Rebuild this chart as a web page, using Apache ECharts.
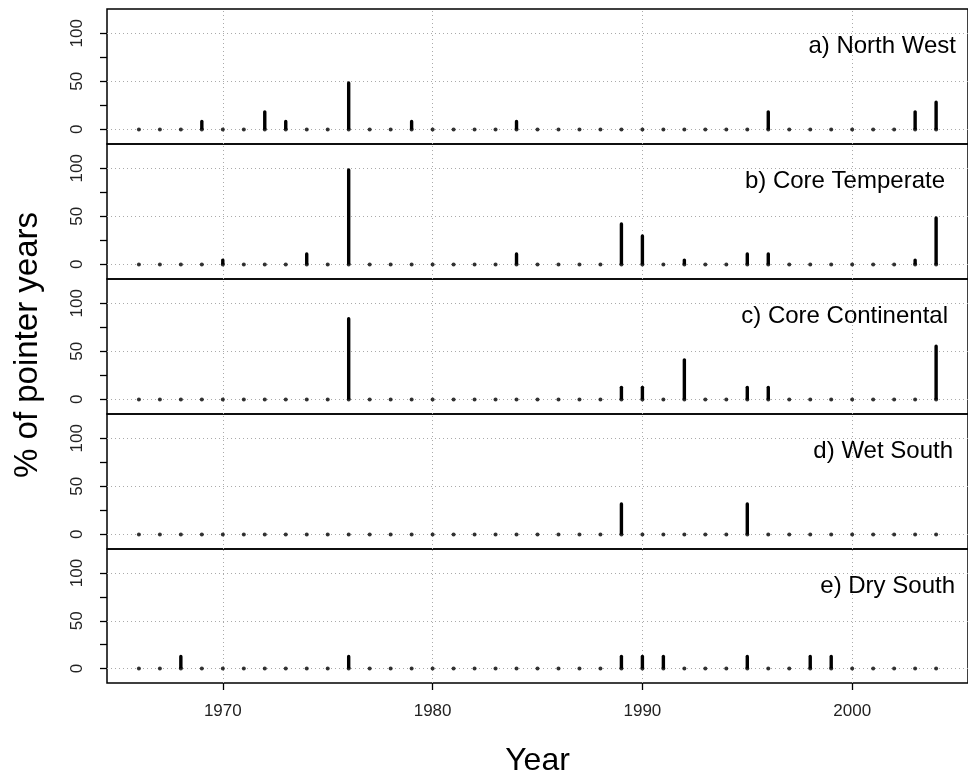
<!DOCTYPE html>
<html>
<head>
<meta charset="utf-8">
<script src="https://cdn.jsdelivr.net/npm/echarts@6/dist/echarts.min.js"></script>
<style>
html,body{margin:0;padding:0;background:#fff;}
#chart{width:968px;height:778px;}
</style>
</head>
<body>
<div id="chart"></div>
<script>
const years = [1966,1967,1968,1969,1970,1971,1972,1973,1974,1975,1976,1977,1978,1979,1980,1981,1982,1983,1984,1985,1986,1987,1988,1989,1990,1991,1992,1993,1994,1995,1996,1997,1998,1999,2000,2001,2002,2003,2004];

//                 66 67 68 69 70 71 72 73 74 75 76 77 78 79 80 81 82 83 84 85 86 87 88 89 90 91 92 93 94 95 96 97 98 99 00 01 02 03 04
const northWest = [0, 0, 0, 10,0, 0, 20,10,0, 0, 50,0, 0, 10,0, 0, 0, 0, 10,0, 0, 0, 0, 0, 0, 0, 0, 0, 0, 0, 20,0, 0, 0, 0, 0, 0, 20,30];
const coreTemperate = [0,0,0,0,6.25,0,0,0,12.5,0,100,0,0,0,0,0,0,0,12.5,0,0,0,0,43.75,31.25,0,6.25,0,0,12.5,12.5,0,0,0,0,0,0,6.25,50];
const coreContinental = [0,0,0,0,0,0,0,0,0,0,85.7,0,0,0,0,0,0,0,0,0,0,0,0,14.3,14.3,0,42.9,0,0,14.3,14.3,0,0,0,0,0,0,0,57.1];
const wetSouth = [0,0,0,0,0,0,0,0,0,0,0,0,0,0,0,0,0,0,0,0,0,0,0,33.3,0,0,0,0,0,33.3,0,0,0,0,0,0,0,0,0];
const drySouth = [0,0,14.3,0,0,0,0,0,0,0,14.3,0,0,0,0,0,0,0,0,0,0,0,0,14.3,14.3,14.3,0,0,0,14.3,0,0,14.3,14.3,0,0,0,0,0];

const panelNames = ["a) North West","b) Core Temperate","c) Core Continental","d) Wet South","e) Dry South"];
const panelData = [northWest, coreTemperate, coreContinental, wetSouth, drySouth];

const xTickYears = [1970,1980,1990,2000];
const yTickValues = [0,25,50,75,100];
const yLabelValues = [0,50,100];
const yGridValues = [0,50,100];

const xAxisTitle = "Year";
const yAxisTitle = "% of pointer years";

// layout
const FONT = "'Liberation Sans', Arial, sans-serif";
const gridLeft = 107, gridWidth = 868, gridTop0 = 9, gridStep = 135, gridH = 135;
const labelRight = [956, 945, 948, 953, 955];

const grids = [], xAxes = [], yAxes = [], series = [], graphics = [];
panelData.forEach((vals, i) => {
  const isLast = i === panelData.length - 1;
  grids.push({
    left: gridLeft, width: gridWidth, top: gridTop0 + gridStep * i, height: gridH,
    show: true, borderColor: '#000', borderWidth: 1.5, backgroundColor: 'transparent'
  });
  xAxes.push({
    type: 'value', gridIndex: i, min: 1964.48, max: 2005.52, position: 'bottom',
    axisLine: {show: false, onZero: false},
    splitLine: {show: false},
    axisTick: {show: isLast, customValues: xTickYears, length: 7, inside: false, lineStyle: {color: '#000', width: 1.3}},
    axisLabel: {show: isLast, customValues: xTickYears, margin: 20, fontSize: 17, color: '#222', fontFamily: FONT,
                formatter: v => String(v)},
    name: isLast ? xAxisTitle : '',
    nameLocation: 'middle', nameGap: 62,
    nameTextStyle: {fontSize: 32, color: '#000', fontFamily: FONT}
  });
  yAxes.push({
    type: 'value', gridIndex: i, min: -15.2, max: 125.2,
    axisLine: {show: false, onZero: false},
    splitLine: {show: false},
    axisTick: {show: true, customValues: yTickValues, length: 7, lineStyle: {color: '#000', width: 1.3}},
    axisLabel: {show: true, customValues: yLabelValues, rotate: 90, margin: 21, fontSize: 17, color: '#222', fontFamily: FONT}
  });
  const gridMarks = yGridValues.map(v => ({yAxis: v})).concat(xTickYears.map(v => ({xAxis: v})));
  // gridlines (behind the marks)
  series.push({
    type: 'line', xAxisIndex: i, yAxisIndex: i, z: 1, data: [], silent: true,
    markLine: {
      z: 1,
      silent: true, symbol: 'none', label: {show: false},
      lineStyle: {type: [1, 3], color: '#aaa', width: 1},
      emphasis: {disabled: true},
      data: gridMarks
    }
  });
  series.push({
    type: 'bar', xAxisIndex: i, yAxisIndex: i, z: 3,
    barWidth: 3.4,
    data: years.map((y, k) => [y, vals[k]]),
    itemStyle: {color: '#000', borderRadius: [1.7, 1.7, 0, 0]}
  });
  series.push({
    type: 'scatter', xAxisIndex: i, yAxisIndex: i, z: 4,
    symbol: 'circle', symbolSize: 4,
    data: years.map(y => [y, 0]),
    itemStyle: {color: '#000'}
  });
  graphics.push({
    type: 'text', x: labelRight[i], y: gridTop0 + gridStep * i + 37,
    style: {text: panelNames[i], textAlign: 'right', textVerticalAlign: 'middle', fontSize: 24, fill: '#000', fontFamily: FONT}
  });
});
graphics.push({
  type: 'text', x: 28, y: 345, rotation: Math.PI / 2,
  style: {text: yAxisTitle, textAlign: 'center', textVerticalAlign: 'middle', fontSize: 33, fill: '#000', fontFamily: FONT}
});

const chart = echarts.init(document.getElementById('chart'), null, {renderer: 'canvas'});
chart.setOption({
  animation: false,
  backgroundColor: '#fff',
  grid: grids, xAxis: xAxes, yAxis: yAxes, series: series, graphic: graphics
});
</script>
</body>
</html>
